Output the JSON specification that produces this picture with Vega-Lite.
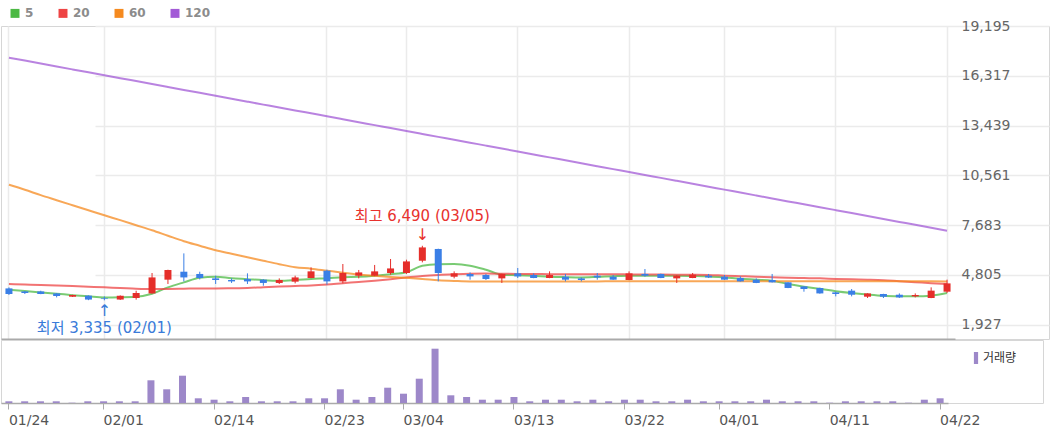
{
  "$schema": "https://vega.github.io/schema/vega-lite/v6.json",
  "background": "white",
  "padding": {"left": 0, "top": 6, "right": 0, "bottom": 0},
  "spacing": 1,
  "bounds": "flush",
  "config": {
    "view": {"stroke": null},
    "font": "DejaVu Sans",
    "axis": {"labelFont": "DejaVu Sans", "titleFont": "DejaVu Sans"},
    "axisY": {"labelExpr": "format(datum.value, ',.0f')"},
    "legend": {"labelFont": "DejaVu Sans"}
  },
  "resolve": {"scale": {"x": "independent", "y": "independent", "color": "independent"}, "legend": {"color": "independent"}},
  "datasets": {
    "px": [
      {"d":"01/24","o":4025,"h":4085,"l":3645,"c":3700,"v":170000,"m5":3950,"m20":4280,"m60":10020,"m120":17365},
      {"d":"01/25","o":3850,"h":3875,"l":3700,"c":3760,"v":170000,"m5":3875,"m20":4250,"m60":9730,"m120":17195},
      {"d":"01/26","o":3850,"h":3890,"l":3690,"c":3700,"v":170000,"m5":3795,"m20":4220,"m60":9415,"m120":17025},
      {"d":"01/29","o":3735,"h":3760,"l":3505,"c":3585,"v":170000,"m5":3720,"m20":4195,"m60":9125,"m120":16855},
      {"d":"01/30","o":3545,"h":3660,"l":3530,"c":3645,"v":30000,"m5":3635,"m20":4165,"m60":8835,"m120":16685},
      {"d":"01/31","o":3605,"h":3620,"l":3345,"c":3380,"v":170000,"m5":3565,"m20":4125,"m60":8545,"m120":16515},
      {"d":"02/01","o":3450,"h":3560,"l":3335,"c":3410,"v":170000,"m5":3505,"m20":4085,"m60":8255,"m120":16345},
      {"d":"02/02","o":3380,"h":3620,"l":3360,"c":3600,"v":170000,"m5":3515,"m20":4050,"m60":7970,"m120":16180},
      {"d":"02/05","o":3470,"h":3890,"l":3375,"c":3760,"v":170000,"m5":3545,"m20":4010,"m60":7680,"m120":16010},
      {"d":"02/06","o":3735,"h":4915,"l":3720,"c":4660,"v":2270000,"m5":3720,"m20":3990,"m60":7390,"m120":15840},
      {"d":"02/07","o":4530,"h":5105,"l":4280,"c":5090,"v":1370000,"m5":4085,"m20":3995,"m60":7070,"m120":15670},
      {"d":"02/08","o":4990,"h":6050,"l":4430,"c":4660,"v":2730000,"m5":4375,"m20":4010,"m60":6755,"m120":15500},
      {"d":"02/13","o":4860,"h":4990,"l":4545,"c":4625,"v":470000,"m5":4645,"m20":4025,"m60":6495,"m120":15330},
      {"d":"02/14","o":4605,"h":4760,"l":4280,"c":4510,"v":330000,"m5":4700,"m20":4025,"m60":6235,"m120":15160},
      {"d":"02/15","o":4510,"h":4605,"l":4340,"c":4430,"v":170000,"m5":4615,"m20":4035,"m60":6030,"m120":14990},
      {"d":"02/16","o":4570,"h":4895,"l":4280,"c":4430,"v":600000,"m5":4560,"m20":4050,"m60":5830,"m120":14820},
      {"d":"02/19","o":4530,"h":4560,"l":4180,"c":4340,"v":170000,"m5":4500,"m20":4095,"m60":5625,"m120":14650},
      {"d":"02/20","o":4340,"h":4605,"l":4280,"c":4510,"v":170000,"m5":4470,"m20":4135,"m60":5425,"m120":14480},
      {"d":"02/21","o":4415,"h":4760,"l":4315,"c":4660,"v":170000,"m5":4510,"m20":4165,"m60":5250,"m120":14315},
      {"d":"02/22","o":4625,"h":5240,"l":4615,"c":5010,"v":470000,"m5":4575,"m20":4195,"m60":5165,"m120":14145},
      {"d":"02/23","o":5050,"h":5105,"l":4240,"c":4430,"v":470000,"m5":4615,"m20":4250,"m60":5050,"m120":13975},
      {"d":"02/26","o":4430,"h":5435,"l":4315,"c":4915,"v":1370000,"m5":4675,"m20":4325,"m60":4935,"m120":13805},
      {"d":"02/27","o":4760,"h":5090,"l":4605,"c":4950,"v":330000,"m5":4700,"m20":4395,"m60":4835,"m120":13635},
      {"d":"02/28","o":4760,"h":5380,"l":4730,"c":5010,"v":600000,"m5":4760,"m20":4470,"m60":4760,"m120":13465},
      {"d":"02/29","o":4915,"h":5725,"l":4820,"c":5180,"v":1530000,"m5":4845,"m20":4560,"m60":4690,"m120":13295},
      {"d":"03/04","o":4915,"h":5685,"l":4860,"c":5585,"v":930000,"m5":4960,"m20":4655,"m60":4635,"m120":13125},
      {"d":"03/05","o":5625,"h":6490,"l":5530,"c":6395,"v":2430000,"m5":5340,"m20":4745,"m60":4575,"m120":12955},
      {"d":"03/06","o":6305,"h":6320,"l":4430,"c":4915,"v":5430000,"m5":5425,"m20":4805,"m60":4500,"m120":12785},
      {"d":"03/07","o":4700,"h":5010,"l":4605,"c":4895,"v":770000,"m5":5435,"m20":4845,"m60":4455,"m120":12620},
      {"d":"03/08","o":4860,"h":4950,"l":4530,"c":4720,"v":600000,"m5":5340,"m20":4875,"m60":4425,"m120":12450},
      {"d":"03/11","o":4800,"h":4860,"l":4510,"c":4570,"v":330000,"m5":5105,"m20":4885,"m60":4430,"m120":12280},
      {"d":"03/12","o":4605,"h":4875,"l":4340,"c":4860,"v":330000,"m5":4820,"m20":4875,"m60":4430,"m120":12110},
      {"d":"03/13","o":4895,"h":5205,"l":4625,"c":4720,"v":600000,"m5":4790,"m20":4865,"m60":4430,"m120":11940},
      {"d":"03/14","o":4800,"h":4895,"l":4615,"c":4625,"v":170000,"m5":4750,"m20":4860,"m60":4430,"m120":11770},
      {"d":"03/15","o":4625,"h":5010,"l":4615,"c":4800,"v":330000,"m5":4700,"m20":4850,"m60":4430,"m120":11600},
      {"d":"03/18","o":4700,"h":4860,"l":4430,"c":4530,"v":330000,"m5":4675,"m20":4845,"m60":4430,"m120":11430},
      {"d":"03/19","o":4605,"h":4660,"l":4430,"c":4510,"v":170000,"m5":4660,"m20":4845,"m60":4430,"m120":11260},
      {"d":"03/20","o":4760,"h":4915,"l":4530,"c":4660,"v":330000,"m5":4690,"m20":4840,"m60":4430,"m120":11090},
      {"d":"03/21","o":4700,"h":4800,"l":4520,"c":4530,"v":170000,"m5":4730,"m20":4840,"m60":4435,"m120":10920},
      {"d":"03/22","o":4510,"h":5010,"l":4500,"c":4895,"v":330000,"m5":4760,"m20":4835,"m60":4435,"m120":10755},
      {"d":"03/25","o":4860,"h":5145,"l":4700,"c":4760,"v":330000,"m5":4760,"m20":4830,"m60":4435,"m120":10585},
      {"d":"03/26","o":4860,"h":4875,"l":4615,"c":4625,"v":170000,"m5":4760,"m20":4825,"m60":4435,"m120":10415},
      {"d":"03/27","o":4605,"h":4790,"l":4340,"c":4760,"v":170000,"m5":4760,"m20":4820,"m60":4435,"m120":10245},
      {"d":"03/28","o":4625,"h":4915,"l":4615,"c":4820,"v":330000,"m5":4745,"m20":4815,"m60":4435,"m120":10075},
      {"d":"03/29","o":4760,"h":4860,"l":4625,"c":4660,"v":170000,"m5":4720,"m20":4805,"m60":4435,"m120":9905},
      {"d":"04/01","o":4700,"h":4800,"l":4520,"c":4530,"v":170000,"m5":4660,"m20":4760,"m60":4435,"m120":9735},
      {"d":"04/02","o":4625,"h":4720,"l":4420,"c":4430,"v":170000,"m5":4585,"m20":4730,"m60":4435,"m120":9565},
      {"d":"04/03","o":4530,"h":4605,"l":4330,"c":4340,"v":170000,"m5":4530,"m20":4700,"m60":4435,"m120":9395},
      {"d":"04/04","o":4510,"h":4860,"l":4365,"c":4375,"v":330000,"m5":4470,"m20":4675,"m60":4435,"m120":9225},
      {"d":"04/05","o":4375,"h":4385,"l":4040,"c":4050,"v":170000,"m5":4280,"m20":4645,"m60":4435,"m120":9055},
      {"d":"04/08","o":4140,"h":4150,"l":3835,"c":3990,"v":170000,"m5":4125,"m20":4625,"m60":4435,"m120":8890},
      {"d":"04/09","o":4050,"h":4065,"l":3720,"c":3735,"v":170000,"m5":4000,"m20":4605,"m60":4435,"m120":8720},
      {"d":"04/11","o":3795,"h":3835,"l":3565,"c":3700,"v":30000,"m5":3865,"m20":4575,"m60":4435,"m120":8550},
      {"d":"04/12","o":3895,"h":3990,"l":3565,"c":3660,"v":170000,"m5":3760,"m20":4550,"m60":4435,"m120":8380},
      {"d":"04/15","o":3545,"h":3745,"l":3470,"c":3735,"v":170000,"m5":3675,"m20":4530,"m60":4435,"m120":8210},
      {"d":"04/16","o":3700,"h":3715,"l":3470,"c":3545,"v":170000,"m5":3605,"m20":4500,"m60":4435,"m120":8040},
      {"d":"04/17","o":3660,"h":3735,"l":3470,"c":3505,"v":170000,"m5":3575,"m20":4440,"m60":4435,"m120":7870},
      {"d":"04/18","o":3565,"h":3735,"l":3505,"c":3645,"v":30000,"m5":3565,"m20":4385,"m60":4435,"m120":7700},
      {"d":"04/19","o":3470,"h":4085,"l":3460,"c":3895,"v":330000,"m5":3605,"m20":4325,"m60":4435,"m120":7530},
      {"d":"04/22","o":3835,"h":4530,"l":3760,"c":4315,"v":470000,"m5":3760,"m20":4280,"m60":4430,"m120":7360}
    ]
  },
  "vconcat": [
    {
      "width": 1048,
      "height": 313,
      "view": {"stroke": "#d6d6d6", "strokeWidth": 1},
      "data": {"name": "px"},
      "encoding": {
        "x": {
          "field": "d", "type": "ordinal",
          "scale": {"type": "band", "range": [0, 954], "paddingInner": 0, "paddingOuter": 0},
          "axis": {
            "title": null, "labels": false, "ticks": false, "bandPosition": 0.5,
            "values": ["01/24","02/01","02/14","02/23","03/04","03/13","03/22","04/01","04/11","04/22"],
            "grid": true, "gridColor": "#ebebeb", "gridWidth": 1.5,
            "domain": true, "domainColor": "#aaaaaa", "domainWidth": 2
          }
        }
      },
      "layer": [
        {
          "transform": [{"fold": ["m5", "m20", "m60", "m120"], "as": ["ma", "val"]}],
          "mark": {"type": "line", "interpolate": "monotone", "strokeWidth": 2, "opacity": 0.75},
          "encoding": {
            "y": {
              "field": "val", "type": "quantitative",
              "scale": {"domain": [1100, 19195], "nice": false, "zero": false},
              "axis": {"orient": "right", "offset": -94, "title": null, "ticks": false, "domain": false,
                "values": [1927, 4805, 7683, 10561, 13439, 16317, 19195],
                "labelPadding": 6, "labelFontSize": 14, "labelColor": "#666666", "labelFont": "DejaVu Sans",
                "grid": true, "gridColor": "#ebebeb", "gridWidth": 1.5}
            },
            "color": {
              "field": "ma", "type": "nominal",
              "scale": {"domain": ["m5", "m20", "m60", "m120"], "range": ["#4cb944", "#ee4444", "#f58a1f", "#a25ad6"]},
              "legend": {"orient": "none", "legendX": 8, "legendY": -19, "direction": "horizontal", "title": null,
                "symbolType": "square", "symbolSize": 20, "symbolStrokeWidth": 4.5, "symbolOpacity": 1,
                "labelFont": "DejaVu Sans", "labelFontWeight": "bold", "labelFontSize": 12, "labelColor": "#8c8c8c",
                "labelOffset": 4, "columnPadding": 17, "padding": 0,
                "labelExpr": "replace(datum.label, 'm', '')"}
            }
          }
        },
        {
          "mark": {"type": "rule", "strokeWidth": 1},
          "encoding": {
            "y": {"field": "l", "type": "quantitative", "scale": {"domain": [1100, 19195], "nice": false, "zero": false}},
            "y2": {"field": "h"},
            "color": {"condition": {"test": "datum.c >= datum.o", "value": "#e52e2a"}, "value": "#3a7fe6"}
          }
        },
        {
          "mark": {"type": "bar", "size": 7},
          "encoding": {
            "y": {"field": "o", "type": "quantitative", "scale": {"domain": [1100, 19195], "nice": false, "zero": false}},
            "y2": {"field": "c"},
            "color": {"condition": {"test": "datum.c >= datum.o", "value": "#e52e2a"}, "value": "#3a7fe6"}
          }
        },
        {
          "data": {"values": [
            {"d": "03/05", "p": 6490, "t": "최고 6,490 (03/05)", "a": "↓", "k": "hi"},
            {"d": "02/01", "p": 3335, "t": "최저 3,335 (02/01)", "a": "↑", "k": "lo"}
          ]},
          "transform": [{"filter": "datum.k == 'hi'"}],
          "layer": [
            {"mark": {"type": "text", "color": "#e8322e", "fontSize": 15, "font": "DejaVu Sans, Noto Sans CJK KR", "baseline": "middle", "align": "center", "dy": -30},
             "encoding": {"y": {"field": "p", "type": "quantitative", "scale": {"domain": [1100, 19195], "nice": false, "zero": false}}, "text": {"field": "t"}}},
            {"mark": {"type": "text", "color": "#e8322e", "fontSize": 16, "font": "DejaVu Sans", "baseline": "middle", "align": "center", "dy": -11},
             "encoding": {"y": {"field": "p", "type": "quantitative", "scale": {"domain": [1100, 19195], "nice": false, "zero": false}}, "text": {"field": "a"}}}
          ]
        },
        {
          "data": {"values": [
            {"d": "03/05", "p": 6490, "t": "최고 6,490 (03/05)", "a": "↓", "k": "hi"},
            {"d": "02/01", "p": 3335, "t": "최저 3,335 (02/01)", "a": "↑", "k": "lo"}
          ]},
          "transform": [{"filter": "datum.k == 'lo'"}],
          "layer": [
            {"mark": {"type": "text", "color": "#3a7bd9", "fontSize": 15, "font": "DejaVu Sans, Noto Sans CJK KR", "baseline": "middle", "align": "center", "dy": 28},
             "encoding": {"y": {"field": "p", "type": "quantitative", "scale": {"domain": [1100, 19195], "nice": false, "zero": false}}, "text": {"field": "t"}}},
            {"mark": {"type": "text", "color": "#3a7bd9", "fontSize": 16, "font": "DejaVu Sans", "baseline": "middle", "align": "center", "dy": 11},
             "encoding": {"y": {"field": "p", "type": "quantitative", "scale": {"domain": [1100, 19195], "nice": false, "zero": false}}, "text": {"field": "a"}}}
          ]
        }
      ]
    },
    {
      "width": 1042,
      "height": 63,
      "view": {"stroke": "#d6d6d6", "strokeWidth": 1},
      "data": {"name": "px"},
      "mark": {"type": "bar", "size": 7},
      "encoding": {
        "x": {
          "field": "d", "type": "ordinal",
          "scale": {"type": "band", "range": [0, 947], "paddingInner": 0, "paddingOuter": 0},
          "axis": {
            "title": null, "bandPosition": 0.5, "labelAngle": 0,
            "values": ["01/24","02/01","02/14","02/23","03/04","03/13","03/22","04/01","04/11","04/22"],
            "grid": false, "labelAlign": "left", "labelPadding": 4, "labelFontSize": 14, "labelColor": "#555555",
            "labelFont": "DejaVu Sans", "ticks": true, "tickSize": 6, "tickColor": "#aaaaaa",
            "domain": true, "domainColor": "#aaaaaa", "domainWidth": 1.5
          }
        },
        "y": {"field": "v", "type": "quantitative", "scale": {"domain": [0, 6300000], "nice": false}, "axis": null},
        "color": {
          "datum": "거래량", "type": "nominal",
          "scale": {"range": ["#9d88c9"]},
          "legend": {"orient": "none", "legendX": 969, "legendY": 12, "title": null, "padding": 0,
            "symbolType": "M-0.35,-1h0.7v2h-0.7z", "symbolSize": 144, "symbolStrokeWidth": 0,
            "labelFont": "Noto Sans CJK KR", "labelFontSize": 12, "labelColor": "#333333", "labelOffset": 1}
        }
      }
    }
  ]
}
